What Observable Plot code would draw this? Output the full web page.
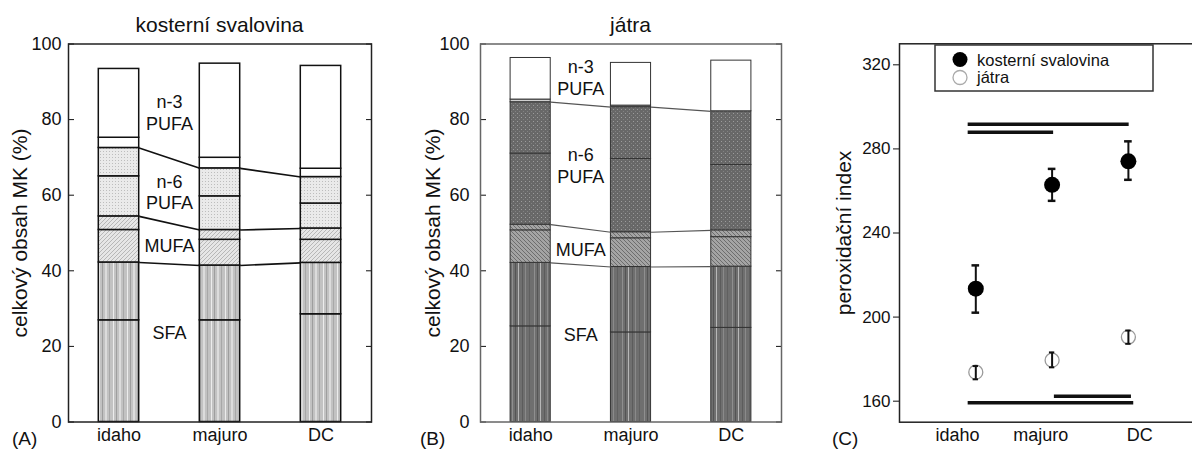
<!DOCTYPE html>
<html><head><meta charset="utf-8">
<script src="https://cdn.jsdelivr.net/npm/d3@7"></script>
<script src="https://cdn.jsdelivr.net/npm/@observablehq/plot@0.6"></script>
<style>
html,body{margin:0;padding:0;background:#fff;}
body{width:1192px;height:451px;overflow:hidden;position:relative;font-family:"Liberation Sans",Arial,Helvetica,sans-serif;color:#111;}
.panel{position:absolute;top:0;}
.title{position:absolute;font-size:21px;line-height:1;text-align:center;white-space:nowrap;}
.letter{position:absolute;font-size:19px;line-height:1;}
</style></head><body>
<svg width="0" height="0" style="position:absolute">
<defs>
  <pattern id="pA_sfa" patternUnits="userSpaceOnUse" width="14" height="10">
    <rect width="14" height="10" fill="#c2c2c2"/>
    <rect x="1" width="1" height="10" fill="#ececec"/>
    <rect x="4" width="1" height="10" fill="#9e9e9e"/>
    <rect x="7" width="2" height="10" fill="#dcdcdc"/>
    <rect x="11" width="1" height="10" fill="#a8a8a8"/>
  </pattern>
  <pattern id="pA_mufa" patternUnits="userSpaceOnUse" width="4" height="4">
    <rect width="4" height="4" fill="#e6e6e6"/>
    <path d="M-1,1 L1,-1 M0,4 L4,0 M3,5 L5,3" stroke="#ababab" stroke-width="0.8"/>
  </pattern>
  <pattern id="pA_n6" patternUnits="userSpaceOnUse" width="3" height="3">
    <rect width="3" height="3" fill="#eaeaea"/>
    <rect x="1" y="1" width="1" height="1" fill="#bdbdbd"/>
  </pattern>
  <pattern id="pB_sfa" patternUnits="userSpaceOnUse" width="22" height="10">
    <rect width="22" height="10" fill="#6f6f6f"/>
    <rect x="2" width="1" height="10" fill="#8f8f8f"/>
    <rect x="5" width="1" height="10" fill="#555555"/>
    <rect x="8" width="1" height="10" fill="#b8b8b8"/>
    <rect x="12" width="1" height="10" fill="#5c5c5c"/>
    <rect x="15" width="1" height="10" fill="#8a8a8a"/>
    <rect x="19" width="1" height="10" fill="#606060"/>
  </pattern>
  <pattern id="pB_mufa" patternUnits="userSpaceOnUse" width="4" height="4">
    <rect width="4" height="4" fill="#a4a4a4"/>
    <path d="M-1,3 L1,5 M0,0 L4,4 M3,-1 L5,1" stroke="#666666" stroke-width="0.9"/>
  </pattern>
  <pattern id="pB_n6" patternUnits="userSpaceOnUse" width="4" height="4">
    <rect width="4" height="4" fill="#686868"/>
    <rect x="1" y="1" width="1" height="1" fill="#9c9c9c"/>
    <rect x="3" y="3" width="1" height="1" fill="#828282"/>
  </pattern>
</defs></svg>

<div id="A" class="panel" style="left:0px"></div>
<div id="B" class="panel" style="left:400px"></div>
<div id="C" class="panel" style="left:800px"></div>

<div class="title" style="left:68px;width:303px;top:14px">kosterní svalovina</div>
<div class="title" style="left:480px;width:301px;top:14px">játra</div>
<div class="letter" style="left:12px;top:429px">(A)</div>
<div class="letter" style="left:420px;top:429px">(B)</div>
<div class="letter" style="left:832px;top:429px">(C)</div>

<svg id="legend" width="222" height="50" style="position:absolute;left:934px;top:44px;font-family:'Liberation Sans',Arial,sans-serif">
  <rect x="1" y="1" width="218" height="46" fill="#fff" stroke="#333" stroke-width="1.5"/>
  <circle cx="26" cy="15.5" r="7.5" fill="#000"/>
  <circle cx="26" cy="33.5" r="7" fill="#fff" stroke="#aaa" stroke-width="1.3"/>
  <text x="43" y="22" font-size="16.5" fill="#111">kosterní svalovina</text>
  <text x="43" y="39" font-size="16.5" fill="#111">játra</text>
</svg>

<script>
// ---------- data ----------
const sites = ["idaho", "majuro", "DC"];
const fattyClasses = ["SFA", "SFA", "MUFA", "MUFA", "n-6 PUFA", "n-6 PUFA", "n-3 PUFA", "n-3 PUFA"];

// cumulative tops (%) of the stacked sub-segments, bottom -> top
const muscleIdaho  = [26.9, 42.2, 50.8, 54.4, 65.0, 72.5, 75.2, 93.4];
const muscleMajuro = [26.9, 41.4, 48.2, 50.8, 59.7, 67.1, 69.9, 94.8];
const muscleDC     = [28.5, 42.1, 48.2, 51.2, 57.8, 64.8, 67.0, 94.2];

const liverIdaho  = [25.3, 42.1, 50.7, 52.2, 71.0, 84.6, 85.3, 96.3];
const liverMajuro = [23.7, 41.0, 48.6, 50.2, 69.6, 83.3, 83.7, 95.0];
const liverDC     = [24.9, 41.1, 48.9, 50.7, 68.0, 82.2, 82.2, 95.6];

const connectIndex = [1, 3, 5]; // tops of SFA, MUFA, n-6 PUFA joined between bars

const classLabels = ["n-3\nPUFA", "n-6\nPUFA", "MUFA", "SFA"];
const classLabelYA = [82.0, 61.0, 46.7, 23.8];
const classLabelYB = [91.2, 68.0, 45.8, 23.3];

const yTicksAB = [0, 20, 40, 60, 80, 100];
const yLabelAB = "celkový obsah MK (%)";

// panel C: peroxidation index, mean and error bar ends
const muscleMean = [213.5, 262.9, 274.1];
const muscleLo   = [202.1, 255.3, 265.3];
const muscleHi   = [224.6, 270.5, 283.6];
const liverMean  = [173.8, 179.5, 190.5];
const liverLo    = [170.4, 176.1, 187.3];
const liverHi    = [176.7, 183.2, 193.6];

const sigY  = [291.7, 287.9, 162.4, 159.2];
const sigX1 = [0.90, 0.90, 2.03, 0.90];
const sigX2 = [3.01, 2.02, 3.04, 3.07];

const yTicksC = [160, 200, 240, 280, 320];
const xLabelPosC = [0.76, 1.85, 3.15];
const yLabelC = "peroxidační index";

// ---------- helpers ----------
const FONT = '"Liberation Sans", Arial, Helvetica, sans-serif';
const halfW = 0.2;

function yTitle(text, dx) {
  return Plot.text([text], {frameAnchor: "left", rotate: -90, dx, text: d => d, textAnchor: "middle",
                            fontSize: 21, fill: "#111"});
}

function barPanel(opts) {
  const {bounds, fills, segStroke, segWidth, linkStroke, linkWidth, frameStroke,
         labelY, labelDx, tickPadding, width, marginLeft, marginRight} = opts;
  const segs = [];
  bounds.forEach((b, i) => {
    let prev = 0;
    b.forEach((top, j) => { segs.push({i, y1: prev, y2: top, fill: fills[j], cls: fattyClasses[j]}); prev = top; });
  });
  const links = [];
  connectIndex.forEach(k => {
    for (let i = 0; i < bounds.length - 1; i++) {
      links.push({x1: i + halfW, x2: i + 1 - halfW, y1: bounds[i][k], y2: bounds[i + 1][k]});
    }
  });
  return Plot.plot({
    width, height: 451,
    marginTop: 43.5, marginBottom: 29.5, marginLeft, marginRight,
    style: {fontFamily: FONT, fontSize: "18px", color: "#111", background: "transparent", overflow: "visible", maxWidth: "none"},
    x: {domain: [-0.5, 2.5]},
    y: {domain: [0, 100]},
    color: {type: "identity"},
    marks: [
      Plot.rect(segs, {x1: d => d.i - halfW, x2: d => d.i + halfW, y1: "y1", y2: "y2",
                       fill: d => d.fill, stroke: segStroke, strokeWidth: segWidth}),
      Plot.link(links, {x1: "x1", x2: "x2", y1: "y1", y2: "y2", stroke: linkStroke, strokeWidth: linkWidth}),
      Plot.text(classLabels, {x: () => 0.5, y: (d, i) => labelY[i], text: d => d, fontSize: 18, lineHeight: 1.2, fill: "#111"}),
      Plot.axisX({ticks: [0, 1, 2], tickFormat: i => sites[i], tickSize: 0, tickPadding: 6, label: null, fontSize: 18}),
      Plot.axisY({ticks: yTicksAB, tickSize: -6, tickPadding, label: null, fontSize: 18}),
      Plot.axisY({anchor: "right", ticks: yTicksAB, tickSize: -6, tickFormat: () => "", label: null}),
      yTitle(yLabelAB, labelDx),
      Plot.frame({stroke: frameStroke, strokeWidth: 1.5})
    ]
  });
}

// ---------- panel A ----------
const fillsA = ["url(#pA_sfa)", "url(#pA_sfa)", "url(#pA_mufa)", "url(#pA_mufa)", "url(#pA_n6)", "url(#pA_n6)", "white", "white"];
const plotA = barPanel({
  bounds: [muscleIdaho, muscleMajuro, muscleDC], fills: fillsA,
  segStroke: "#111", segWidth: 1.5, linkStroke: "#111", linkWidth: 1.6, frameStroke: "#222",
  labelY: classLabelYA, labelDx: -48, tickPadding: 13,
  width: 400, marginLeft: 68, marginRight: 29
});
document.getElementById("A").append(plotA);

// ---------- panel B ----------
const fillsB = ["url(#pB_sfa)", "url(#pB_sfa)", "url(#pB_mufa)", "url(#pB_mufa)", "url(#pB_n6)", "url(#pB_n6)", "#d0d0d0", "white"];
const plotB = barPanel({
  bounds: [liverIdaho, liverMajuro, liverDC], fills: fillsB,
  segStroke: "#333", segWidth: 1, linkStroke: "#555", linkWidth: 1.2, frameStroke: "#666",
  labelY: classLabelYB, labelDx: -47, tickPadding: 17,
  width: 400, marginLeft: 80, marginRight: 19
});
document.getElementById("B").append(plotB);

// ---------- panel C ----------
const mus = sites.map((s, i) => ({x: i + 1, mean: muscleMean[i], lo: muscleLo[i], hi: muscleHi[i]}));
const liv = sites.map((s, i) => ({x: i + 1, mean: liverMean[i], lo: liverLo[i], hi: liverHi[i]}));
const capsM = mus.flatMap(d => [{x: d.x, y: d.lo}, {x: d.x, y: d.hi}]);
const capsL = liv.flatMap(d => [{x: d.x, y: d.lo}, {x: d.x, y: d.hi}]);

const plotC = Plot.plot({
  width: 415, height: 451,
  marginTop: 43.3, marginBottom: 29.3, marginLeft: 99, marginRight: 10.8,
  style: {fontFamily: FONT, fontSize: "18px", color: "#111", background: "transparent", overflow: "visible", maxWidth: "none"},
  x: {domain: [0, 4]},
  y: {domain: [150, 330]},
  marks: [
    Plot.ruleY(sigY, {y: d => d, x1: (d, i) => sigX1[i], x2: (d, i) => sigX2[i], stroke: "#111", strokeWidth: 3.5}),
    Plot.dot(liv, {x: "x", y: "mean", r: 7, fill: "white", stroke: "#9a9a9a", strokeWidth: 1.3}),
    Plot.ruleX(liv, {x: "x", y1: "lo", y2: "hi", stroke: "#111", strokeWidth: 2}),
    Plot.ruleY(capsL, {y: "y", x1: d => d.x - 0.035, x2: d => d.x + 0.035, stroke: "#111", strokeWidth: 2}),
    Plot.ruleX(mus, {x: "x", y1: "lo", y2: "hi", stroke: "#111", strokeWidth: 2}),
    Plot.ruleY(capsM, {y: "y", x1: d => d.x - 0.05, x2: d => d.x + 0.05, stroke: "#111", strokeWidth: 2.5}),
    Plot.dot(mus, {x: "x", y: "mean", r: 8, fill: "#000", stroke: "none"}),
    Plot.axisX({ticks: xLabelPosC, tickFormat: (d, i) => sites[i], tickSize: 0, tickPadding: 6, label: null, fontSize: 18}),
    Plot.axisY({ticks: yTicksC, tickSize: 6, tickPadding: 3, label: null, fontSize: 17}),
    Plot.axisY({anchor: "right", ticks: yTicksC, tickSize: -6, tickFormat: () => "", label: null}),
    yTitle(yLabelC, -55),
    Plot.frame({stroke: "#222", strokeWidth: 1.5})
  ]
});
document.getElementById("C").append(plotC);
</script>
</body></html>
